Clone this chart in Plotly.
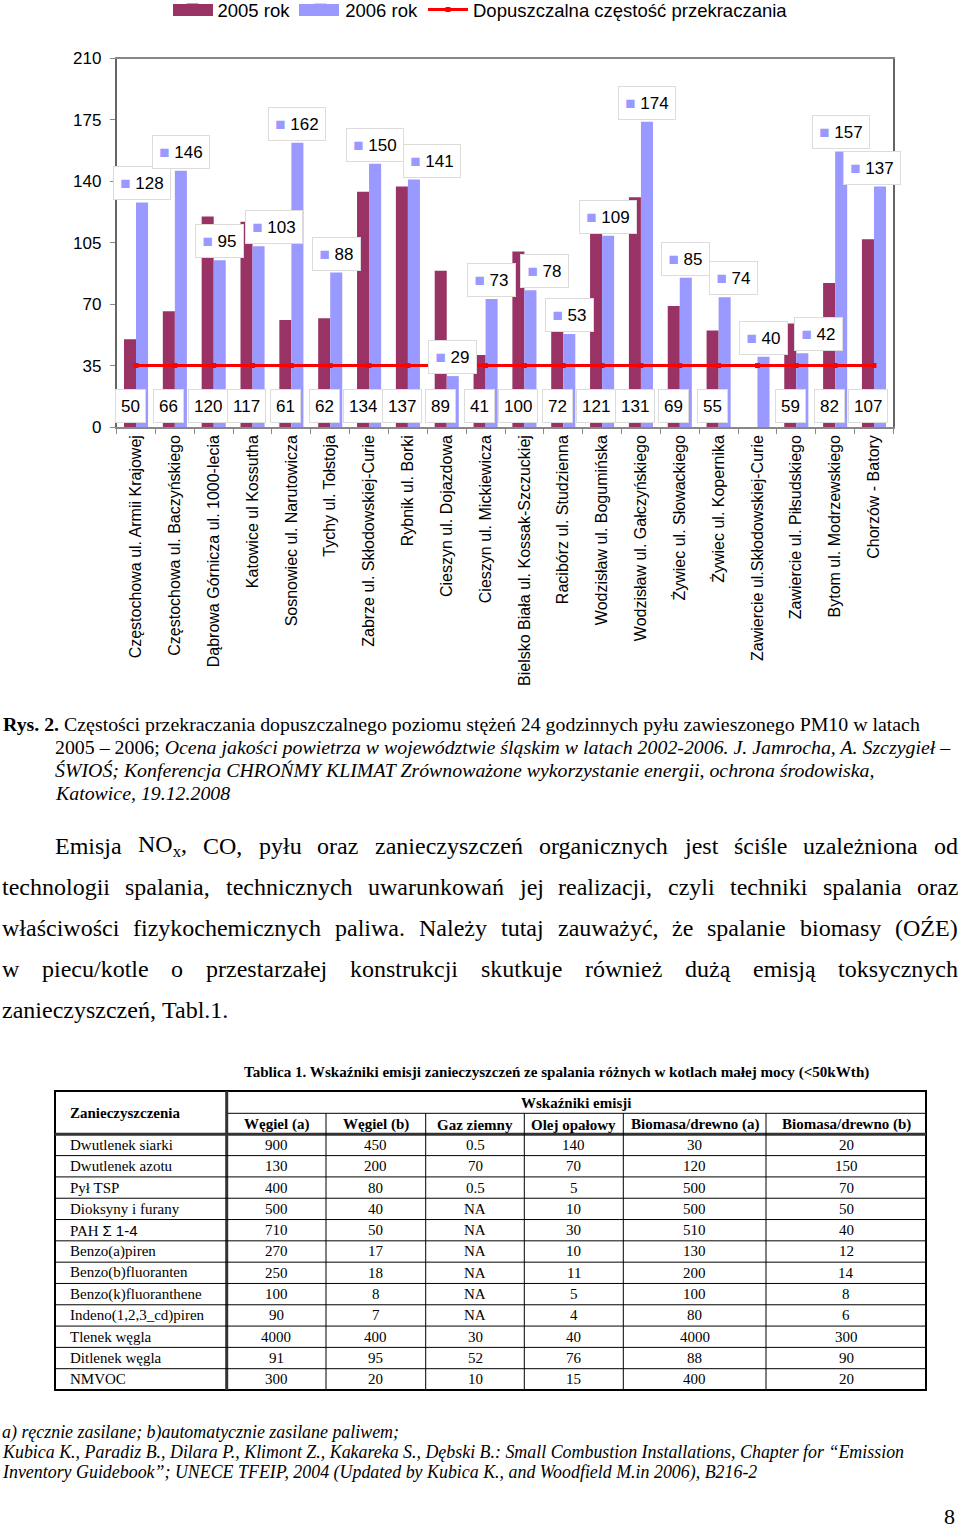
import re
import plotly.graph_objects as go

W, H = 960, 1528
SANS = "Liberation Sans, Arial, sans-serif"
SERIF = "Liberation Serif, Times New Roman, serif"

# ---------------- chart data ----------------
stations = [
    "Częstochowa ul. Armii Krajowej", "Częstochowa ul. Baczyńskiego",
    "Dąbrowa Górnicza ul. 1000-lecia", "Katowice ul Kossutha",
    "Sosnowiec ul. Narutowicza", "Tychy ul. Tołstoja",
    "Zabrze ul. Skłodowskiej-Curie", "Rybnik ul. Borki",
    "Cieszyn ul. Dojazdowa", "Cieszyn ul. Mickiewicza",
    "Bielsko Biała ul. Kossak-Szczuckiej", "Racibórz ul. Studzienna",
    "Wodzisław ul. Bogumińska", "Wodzisław ul. Gałczyńskiego",
    "Żywiec ul. Słowackiego", "Żywiec ul. Kopernika",
    "Zawiercie ul.Skłodowskiej-Curie", "Zawiercie ul. Piłsudskiego",
    "Bytom ul. Modrzewskiego", "Chorzów - Batory",
]
rok_2005 = [50, 66, 120, 117, 61, 62, 134, 137, 89, 41, 100, 72, 121, 131, 69, 55, None, 59, 82, 107]
rok_2006 = [128, 146, 95, 103, 162, 88, 150, 141, 29, 73, 78, 53, 109, 174, 85, 74, 40, 42, 157, 137]
dopuszczalna = [35] * len(stations)
y_ticks = [0, 35, 70, 105, 140, 175, 210]

COL_2005 = "#993366"
COL_2006 = "#9999ff"

# label nudges (pixels) for 2006 value boxes
nudge_2006 = [0, 0, 0, 15, 0, 0, 0, 18, 0, 0, 14, 0, 0, 0, 0, 9, 0, 16, 0, -8]

# ---------------- table data ----------------
tab_headers = ["Węgiel (a)", "Węgiel (b)", "Gaz ziemny", "Olej opałowy",
               "Biomasa/drewno (a)", "Biomasa/drewno (b)"]
pollutants = ["Dwutlenek siarki", "Dwutlenek azotu", "Pył TSP", "Dioksyny i furany",
              "PAH <span style=\"font-family:Liberation Sans\">Σ 1-4</span>",
              "Benzo(a)piren", "Benzo(b)fluoranten", "Benzo(k)fluoranthene",
              "Indeno(1,2,3_cd)piren", "Tlenek węgla", "Ditlenek węgla", "NMVOC"]
wegiel_a = ["900", "130", "400", "500", "710", "270", "250", "100", "90", "4000", "91", "300"]
wegiel_b = ["450", "200", "80", "40", "50", "17", "18", "8", "7", "400", "95", "20"]
gaz_ziemny = ["0.5", "70", "0.5", "NA", "NA", "NA", "NA", "NA", "NA", "30", "52", "10"]
olej_opalowy = ["140", "70", "5", "10", "30", "10", "11", "5", "4", "40", "76", "15"]
biomasa_a = ["30", "120", "500", "500", "510", "130", "200", "100", "80", "4000", "88", "400"]
biomasa_b = ["20", "150", "70", "50", "40", "12", "14", "8", "6", "300", "90", "20"]
tab_columns = [wegiel_a, wegiel_b, gaz_ziemny, olej_opalowy, biomasa_a, biomasa_b]

# ---------------- page text ----------------
caption_lines = [
    "<b>Rys. 2.</b> Częstości przekraczania dopuszczalnego poziomu stężeń 24 godzinnych pyłu zawieszonego PM10 w latach",
    "2005 – 2006; <i>Ocena jakości powietrza w województwie śląskim w latach 2002-2006. J. Jamrocha, A. Szczygieł –</i>",
    "<i>ŚWIOŚ; Konferencja CHROŃMY KLIMAT Zrównoważone wykorzystanie energii, ochrona środowiska,</i>",
    "<i>Katowice, 19.12.2008</i>",
]
para_lines = [
    ["Emisja", "NO<sub>x</sub>,", "CO,", "pyłu", "oraz", "zanieczyszczeń", "organicznych",
     "jest", "ściśle", "uzależniona", "od"],
    ["technologii", "spalania,", "technicznych", "uwarunkowań", "jej", "realizacji,",
     "czyli", "techniki", "spalania", "oraz"],
    ["właściwości", "fizykochemicznych", "paliwa.", "Należy", "tutaj", "zauważyć,", "że",
     "spalanie", "biomasy", "(OŹE)"],
    ["w", "piecu/kotle", "o", "przestarzałej", "konstrukcji", "skutkuje", "również",
     "dużą", "emisją", "toksycznych"],
    ["zanieczyszczeń,", "Tabl.1."],
]
table_title = "<b>Tablica 1. Wskaźniki emisji zanieczyszczeń ze spalania różnych w kotlach małej mocy (&lt;50kWth)</b>"
footnotes = [
    "<i>a) ręcznie zasilane; b)automatycznie zasilane paliwem;</i>",
    "<i>Kubica K., Paradiz B., Dilara P., Klimont Z., Kakareka S., Dębski B.: Small Combustion Installations, Chapter for “Emission</i>",
    "<i>Inventory Guidebook”; UNECE TFEIP, 2004 (Updated by Kubica K., and Woodfield M.in 2006), B216-2</i>",
]
page_no = "8"

# Times / Liberation Serif advance widths (1/1000 em) for justification
TW = {' ': 250, ',': 250, '.': 250, '(': 333, ')': 333, '/': 278, '-': 333,
      'A': 722, 'C': 667, 'E': 611, 'N': 722, 'O': 722, 'T': 611, 'Z': 611, 'Ź': 611,
      'a': 444, 'b': 500, 'c': 444, 'd': 500, 'e': 444, 'f': 333, 'g': 500, 'h': 500,
      'i': 278, 'j': 278, 'k': 500, 'l': 278, 'm': 778, 'n': 500, 'o': 500, 'p': 500,
      'q': 500, 'r': 333, 's': 389, 't': 278, 'u': 500, 'v': 500, 'w': 722, 'x': 500,
      'y': 500, 'z': 444, 'ą': 444, 'ć': 444, 'ę': 444, 'ł': 278, 'ń': 500, 'ó': 500,
      'ś': 389, 'ź': 444, 'ż': 444, '1': 500}


def word_width(word, size):
    total = 0.0
    for m in re.finditer(r"<sub>(.*?)</sub>|([^<]+)", word):
        part = m.group(1) if m.group(1) is not None else m.group(2)
        f = 0.7 if m.group(1) is not None else 1.0
        total += sum(TW.get(ch, 500) for ch in part) * f
    return total * size / 1000.0


def pa(x, y, text, size, family=SERIF, xanchor="left", yanchor="middle", color="black"):
    return dict(xref="paper", yref="paper", x=x / W, y=1 - y / H, text=text,
                showarrow=False, xanchor=xanchor, yanchor=yanchor, align="left",
                font=dict(size=size, family=family, color=color),
                borderpad=0, borderwidth=0)


fig = go.Figure()
fig.add_bar(name="2005 rok", x=stations, y=rok_2005, marker_color=COL_2005,
            marker_line_width=0)
fig.add_bar(name="2006 rok", x=stations, y=rok_2006, marker_color=COL_2006,
            marker_line_width=0)
fig.add_scatter(name="Dopuszczalna częstość przekraczania", x=stations, y=dopuszczalna,
                mode="lines+markers", line=dict(color="#ff0000", width=3),
                marker=dict(symbol="square", size=5, color="#ff0000"))

annotations = []
BARGAP = 0.38
half = (1 - BARGAP) / 4.0
for i, v in enumerate(rok_2006):
    annotations.append(dict(
        x=i + half, y=v, xref="x", yref="y", showarrow=False,
        text=f'<span style="color:{COL_2006}">■</span> {v}',
        xanchor="center", yanchor="bottom", yshift=2, xshift=nudge_2006[i],
        font=dict(size=17, family=SANS, color="black"),
        bgcolor="white", bordercolor="#dcdcdc", borderwidth=1, borderpad=5,
        width=46 if v >= 100 else 37, height=22))
for i, v in enumerate(rok_2005):
    if v is None:
        continue
    annotations.append(dict(
        x=i - half, y=0, xref="x", yref="y", showarrow=False, text=str(v),
        xanchor="center", yanchor="bottom", yshift=4,
        font=dict(size=17, family=SANS, color="black"),
        bgcolor="white", bordercolor="#dcdcdc", borderwidth=1, borderpad=5, height=22))

# caption
cap_x = [3, 55, 55, 55]
cap_y = [724, 747, 770, 793]
for t, x, y in zip(caption_lines, cap_x, cap_y):
    annotations.append(pa(x, y, t, 19.85))

# justified paragraph
P_SIZE = 24
p_start = [55, 2, 2, 2, 2]
p_y = [846, 887, 928, 969, 1010]
p_just = [True, True, True, True, False]
RIGHT = 958
for words, x0, y, just in zip(para_lines, p_start, p_y, p_just):
    widths = [word_width(w, P_SIZE) for w in words]
    if just:
        gap = (RIGHT - x0 - sum(widths)) / (len(words) - 1)
    else:
        gap = TW[' '] * P_SIZE / 1000.0
    x = x0
    for w, ww in zip(words, widths):
        annotations.append(pa(x, y, w, P_SIZE))
        x += ww + gap

# table title
annotations.append(pa(556, 1072, table_title, 15.1, xanchor="center"))

# table geometry (pixels)
col_edges = [55, 226.7, 326, 425.7, 524.3, 623.3, 766, 926]
t_top, t_mid, t_head = 1091, 1113.3, 1134.3
t_bot = 1390
row_h = (t_bot - t_head) / len(pollutants)
TS = 15

annotations.append(pa(70, (t_top + t_head) / 2, "<b>Zanieczyszczenia</b>", TS))
annotations.append(pa((col_edges[1] + col_edges[-1]) / 2, (t_top + t_mid) / 2 + 1,
                      "<b>Wskaźniki emisji</b>", TS, xanchor="center"))
for j, hdr in enumerate(tab_headers):
    cx = (col_edges[j + 1] + col_edges[j + 2]) / 2
    annotations.append(pa(cx, (t_mid + t_head) / 2 + 1, f"<b>{hdr}</b>", TS, xanchor="center"))
for i, name in enumerate(pollutants):
    cy = t_head + row_h * (i + 0.5)
    annotations.append(pa(70, cy, name, TS))
    for j, col in enumerate(tab_columns):
        cx = (col_edges[j + 1] + col_edges[j + 2]) / 2
        annotations.append(pa(cx, cy, col[i], TS, xanchor="center"))

# footnotes & page number
for t, y in zip(footnotes, [1432, 1452, 1472]):
    annotations.append(pa(2, y, t, 17.9))
annotations.append(pa(949, 1516, page_no, 22, xanchor="center"))


def line(x0, y0, x1, y1, w=1, c="black"):
    return dict(type="line", xref="paper", yref="paper", x0=x0 / W, x1=x1 / W,
                y0=1 - y0 / H, y1=1 - y1 / H, line=dict(color=c, width=w))


def prect(x0, y0, x1, y1, fill):
    return dict(type="rect", xref="paper", yref="paper", x0=x0 / W, x1=x1 / W,
                y0=1 - y0 / H, y1=1 - y1 / H, fillcolor=fill, line=dict(width=0),
                layer="above")


shapes = []
# wide legend swatches (Excel style)
shapes.append(prect(173, 4, 213, 16, COL_2005))
shapes.append(prect(299, 4, 339, 16, COL_2006))

shapes.append(dict(type="rect", xref="paper", yref="paper", x0=col_edges[0] / W,
                   x1=col_edges[-1] / W, y0=1 - t_top / H, y1=1 - t_bot / H,
                   line=dict(color="black", width=2)))
shapes.append(line(col_edges[1], t_mid, col_edges[-1], t_mid))
shapes.append(line(col_edges[0], t_head, col_edges[-1], t_head, 3, "#333333"))
shapes.append(line(col_edges[1], t_top, col_edges[1], t_bot, 3, "#333333"))
for xe in col_edges[2:-1]:
    shapes.append(line(xe, t_mid, xe, t_bot))
for i in range(1, len(pollutants)):
    yy = t_head + row_h * i
    shapes.append(line(col_edges[0], yy, col_edges[-1], yy))

fig.update_layout(
    width=W, height=H, margin=dict(l=0, r=0, t=0, b=0, autoexpand=False),
    paper_bgcolor="white", plot_bgcolor="white",
    barmode="group", bargap=BARGAP, bargroupgap=0,
    font=dict(family=SANS, color="black"),
    legend=dict(orientation="h", x=0.5, xanchor="center", y=1 - 10 / H, yanchor="middle",
                font=dict(size=18.5, family=SANS), traceorder="normal", itemwidth=40,
                bgcolor="rgba(0,0,0,0)"),
    xaxis=dict(domain=[116.6 / W, 893.4 / W], automargin=False, tickangle=-90,
               range=[-0.5, len(stations) - 0.5], autorange=False,
               tickfont=dict(size=16, family=SANS), ticks="outside", tickson="boundaries",
               ticklen=5, tickcolor="#888888", showline=True, linecolor="#888888",
               linewidth=1.5, mirror=True, showgrid=False),
    yaxis=dict(domain=[1 - 427 / H, 1 - 58.5 / H], automargin=False, range=[0, 210],
               autorange=False,
               tickvals=y_ticks, tickfont=dict(size=17, family=SANS), ticks="outside",
               ticklen=5, tickcolor="#888888", ticklabelstandoff=5, showline=True,
               linecolor="#666666", linewidth=1.5, mirror=True, showgrid=False,
               zeroline=False),
    annotations=annotations, shapes=shapes,
)

fig.write_html("out.html")
